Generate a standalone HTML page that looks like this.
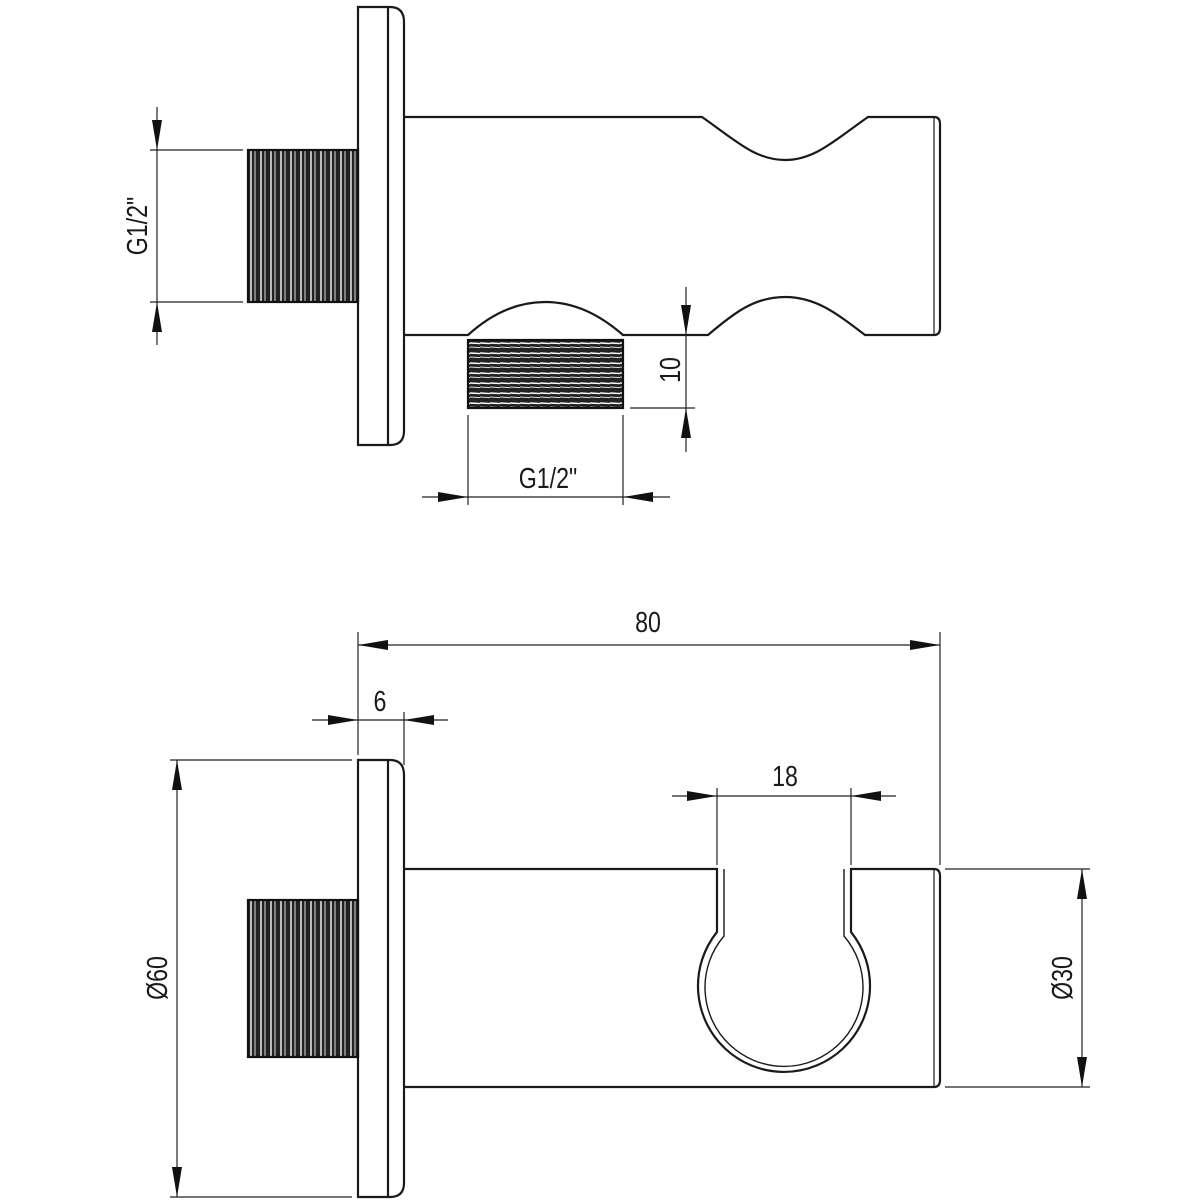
<!DOCTYPE html>
<html><head><meta charset="utf-8"><style>
html,body{margin:0;padding:0;background:#fff}
svg{display:block}
text{font-family:"Liberation Sans",sans-serif;font-size:29px;fill:#1a1a1a}
</style></head><body>
<svg width="1200" height="1200" viewBox="0 0 1200 1200" xmlns="http://www.w3.org/2000/svg">
<defs>
<pattern id="tv" x="248" y="0" width="10" height="10" patternUnits="userSpaceOnUse">
<rect width="10" height="10" fill="#222"/>
<line x1="3" y1="0" x2="3" y2="10" stroke="#fff" stroke-width="1.4"/>
<line x1="7" y1="0" x2="7" y2="10" stroke="#ddd" stroke-width="1"/>
</pattern>
<pattern id="th" x="0" y="340" width="10" height="10" patternUnits="userSpaceOnUse">
<rect width="10" height="10" fill="#222"/>
<line x1="0" y1="3" x2="10" y2="3.6" stroke="#fff" stroke-width="1.4"/>
<line x1="0" y1="7" x2="10" y2="7.6" stroke="#ddd" stroke-width="1"/>
</pattern>
<marker id="a" viewBox="0 0 30 10" refX="30" refY="5" markerWidth="30" markerHeight="10" markerUnits="userSpaceOnUse" orient="auto">
<path d="M0,0 L30,5 L0,10 Z" fill="#111"/>
</marker>
</defs>
<g fill="none" stroke="#1a1a1a" stroke-width="2.2">
<path d="M358,7 H390 Q404,7 404,22 V431 Q404,445 390,445 H358 Z"/>
<line x1="388" y1="7" x2="388" y2="445"/>
<path d="M404,117 H702 C735,140 755,160 785,160 C815,160 835,140 868,117 H934 Q940,117 940,124 V328 Q940,335 934,335 H865 C835,312 815,297 785,297 C755,297 735,312 708,335 H623 C600,315 575,302 545,302 C515,302 490,315 468,335 H404"/>
<line x1="934" y1="117" x2="934" y2="335" stroke-width="1.2"/>
<rect x="248" y="150" width="110" height="152" fill="url(#tv)" stroke="#111"/>
<rect x="468" y="340" width="155" height="68" fill="url(#th)" stroke="#111"/>
<path d="M358,760 H390 Q404,760 404,775 V1183 Q404,1197 390,1197 H358 Z"/>
<line x1="388" y1="760" x2="388" y2="1197"/>
<path d="M404,869 H717 V932 A86,86 0 1 0 851,932 V869 H934 Q940,869 940,876 V1080 Q940,1087 934,1087 H404"/>
<path d="M724,869 V936 A79,79 0 1 0 844,936 V869" stroke-width="1.4"/>
<line x1="934" y1="869" x2="934" y2="1087" stroke-width="1.2"/>
<rect x="248" y="900" width="110" height="157" fill="url(#tv)" stroke="#111"/>
</g>
<g fill="none" stroke="#222" stroke-width="1.2">
<line x1="150" y1="150" x2="243" y2="150"/><line x1="150" y1="302" x2="243" y2="302"/>
<line x1="157" y1="107" x2="157" y2="150" marker-end="url(#a)"/>
<line x1="157" y1="345" x2="157" y2="302" marker-end="url(#a)"/>
<line x1="157" y1="150" x2="157" y2="302"/>
<line x1="630" y1="408" x2="695" y2="408"/>
<line x1="686" y1="287" x2="686" y2="335" marker-end="url(#a)"/>
<line x1="686" y1="452" x2="686" y2="408" marker-end="url(#a)"/>
<line x1="686" y1="335" x2="686" y2="408"/>
<line x1="468" y1="415" x2="468" y2="505"/><line x1="623" y1="415" x2="623" y2="505"/>
<line x1="422" y1="497" x2="468" y2="497" marker-end="url(#a)"/>
<line x1="670" y1="497" x2="623" y2="497" marker-end="url(#a)"/>
<line x1="468" y1="497" x2="623" y2="497"/>
<line x1="358" y1="632" x2="358" y2="755"/><line x1="940" y1="632" x2="940" y2="865"/>
<line x1="649" y1="645" x2="358" y2="645" marker-end="url(#a)"/>
<line x1="649" y1="645" x2="940" y2="645" marker-end="url(#a)"/>
<line x1="404" y1="712" x2="404" y2="765"/>
<line x1="312" y1="720" x2="358" y2="720" marker-end="url(#a)"/>
<line x1="448" y1="720" x2="404" y2="720" marker-end="url(#a)"/>
<line x1="358" y1="720" x2="404" y2="720"/>
<line x1="717" y1="788" x2="717" y2="865"/><line x1="851" y1="788" x2="851" y2="865"/>
<line x1="672" y1="796" x2="717" y2="796" marker-end="url(#a)"/>
<line x1="896" y1="796" x2="851" y2="796" marker-end="url(#a)"/>
<line x1="717" y1="796" x2="851" y2="796"/>
<line x1="170" y1="760" x2="352" y2="760"/><line x1="170" y1="1197" x2="352" y2="1197"/>
<line x1="177" y1="978" x2="177" y2="760" marker-end="url(#a)"/>
<line x1="177" y1="978" x2="177" y2="1197" marker-end="url(#a)"/>
<line x1="945" y1="869" x2="1090" y2="869"/><line x1="945" y1="1087" x2="1090" y2="1087"/>
<line x1="1082" y1="978" x2="1082" y2="869" marker-end="url(#a)"/>
<line x1="1082" y1="978" x2="1082" y2="1087" marker-end="url(#a)"/>
</g>
<text text-anchor="middle" dominant-baseline="central" transform="translate(137 226) rotate(-90) scale(0.8 1)">G1/2"</text>
<text text-anchor="middle" dominant-baseline="central" transform="translate(670 370) rotate(-90) scale(0.8 1)">10</text>
<text text-anchor="middle" dominant-baseline="central" transform="translate(548 478) scale(0.8 1)">G1/2"</text>
<text text-anchor="middle" dominant-baseline="central" transform="translate(648 622) scale(0.8 1)">80</text>
<text text-anchor="middle" dominant-baseline="central" transform="translate(380 701) scale(0.8 1)">6</text>
<text text-anchor="middle" dominant-baseline="central" transform="translate(785 776) scale(0.8 1)">18</text>
<text text-anchor="middle" dominant-baseline="central" transform="translate(157 978) rotate(-90) scale(0.8 1)">Ø60</text>
<text text-anchor="middle" dominant-baseline="central" transform="translate(1062 978) rotate(-90) scale(0.8 1)">Ø30</text>
</svg>
</body></html>
